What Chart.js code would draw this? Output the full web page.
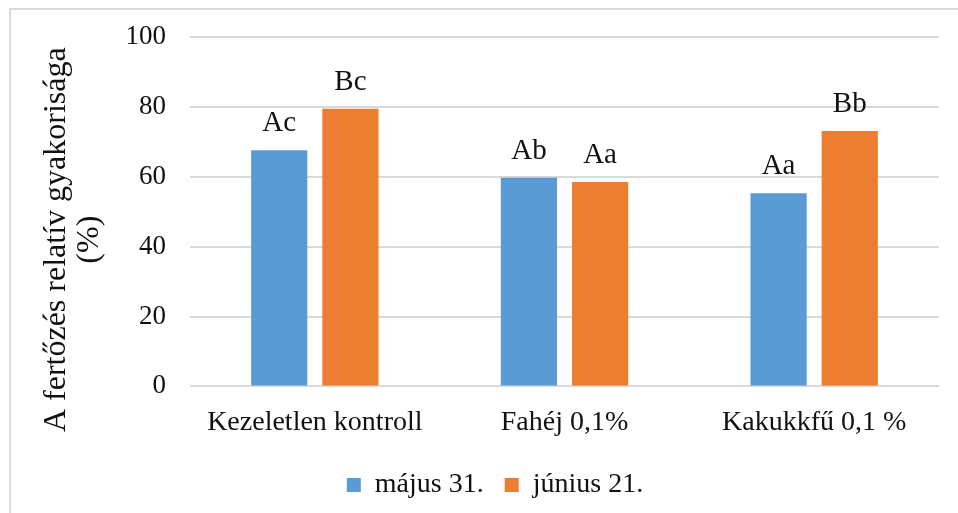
<!DOCTYPE html>
<html>
<head>
<meta charset="utf-8">
<script src="https://cdn.jsdelivr.net/npm/chart.js@4"></script>
<style>
    html, body { margin: 0; padding: 0; background: #fff; overflow: hidden; }
    #keret { position: absolute; left: 9px; top: 8px; width: 970px; height: 520px; border: 2px solid #d9d9d9; box-sizing: border-box; }
    #doboz { position: absolute; left: 0; top: 0; width: 958px; height: 513px; }
</style>
</head>
<body>
<div id="keret"></div>
<div id="doboz"><canvas id="fertozesChart"></canvas></div>
<script>
// Adatok
const kezelesek = ['Kezeletlen kontroll', 'Fahéj 0,1%', 'Kakukkfű 0,1 %'];
const majus31 = [67.6, 59.7, 55.3];
const junius21 = [79.5, 58.5, 73.1];
const majusBetuk = ['Ac', 'Ab', 'Aa'];
const juniusBetuk = ['Bc', 'Aa', 'Bb'];
const yTickek = [0, 20, 40, 60, 80, 100];
const yCim = ['A fertőzés relatív gyakorisága', '(%)'];

const betu = "'Liberation Serif', 'Times New Roman', serif";

// Betűjelek az oszlopok fölé + a függőleges tengely címe
const betujelPlugin = {
    id: 'betujelek',
    afterDatasetsDraw(chart) {
        const ctx = chart.ctx;
        ctx.save();
        ctx.font = '29px ' + betu;
        ctx.fillStyle = '#111';
        ctx.textAlign = 'center';
        ctx.textBaseline = 'alphabetic';
        chart.data.datasets.forEach((ds, i) => {
            chart.getDatasetMeta(i).data.forEach((bar, j) => {
                ctx.fillText(ds.betuk[j], bar.x, bar.y - 19);
            });
        });
        ctx.restore();
    },
    afterDraw(chart) {
        const ctx = chart.ctx;
        const area = chart.chartArea;
        ctx.save();
        ctx.font = '32px ' + betu;
        ctx.fillStyle = '#111';
        ctx.textAlign = 'center';
        ctx.textBaseline = 'middle';
        ctx.translate(area.left - 133, (area.top + area.bottom) / 2 + 28);
        ctx.rotate(-Math.PI / 2);
        yCim.forEach((sor, k) => ctx.fillText(sor, 0, k * 33));
        ctx.restore();
    }
};

new Chart(document.getElementById('fertozesChart'), {
    type: 'bar',
    data: {
        labels: kezelesek,
        datasets: [
            { label: 'május 31.', data: majus31, betuk: majusBetuk, backgroundColor: '#5b9bd5' },
            { label: 'június 21.', data: junius21, betuk: juniusBetuk, backgroundColor: '#ed7d31' }
        ]
    },
    options: {
        responsive: true,
        maintainAspectRatio: false,
        animation: false,
        categoryPercentage: 0.57,
        barPercentage: 0.79,
        layout: { padding: { left: 51, right: 19, top: 37, bottom: 4 } },
        plugins: {
            tooltip: { enabled: false },
            legend: {
                position: 'bottom',
                labels: {
                    font: { family: betu, size: 28 },
                    color: '#111',
                    boxWidth: 14,
                    boxHeight: 14,
                    padding: 21
                }
            }
        },
        scales: {
            x: {
                grid: { display: false },
                border: { display: false },
                ticks: { font: { family: betu, size: 28 }, color: '#111', padding: 11 }
            },
            y: {
                min: 0,
                max: 100,
                afterBuildTicks(scale) { scale.ticks = yTickek.map(v => ({ value: v })); },
                afterFit(scale) {
                    scale.width = 190 - 51;
                    scale.paddingTop = 0;
                    scale.paddingBottom = 0;
                },
                grid: { color: '#d9d9d9', lineWidth: 2, drawTicks: false },
                border: { display: false },
                ticks: { font: { family: betu, size: 27 }, color: '#111', padding: 24 }
            }
        }
    },
    plugins: [betujelPlugin]
});
</script>
</body>
</html>
